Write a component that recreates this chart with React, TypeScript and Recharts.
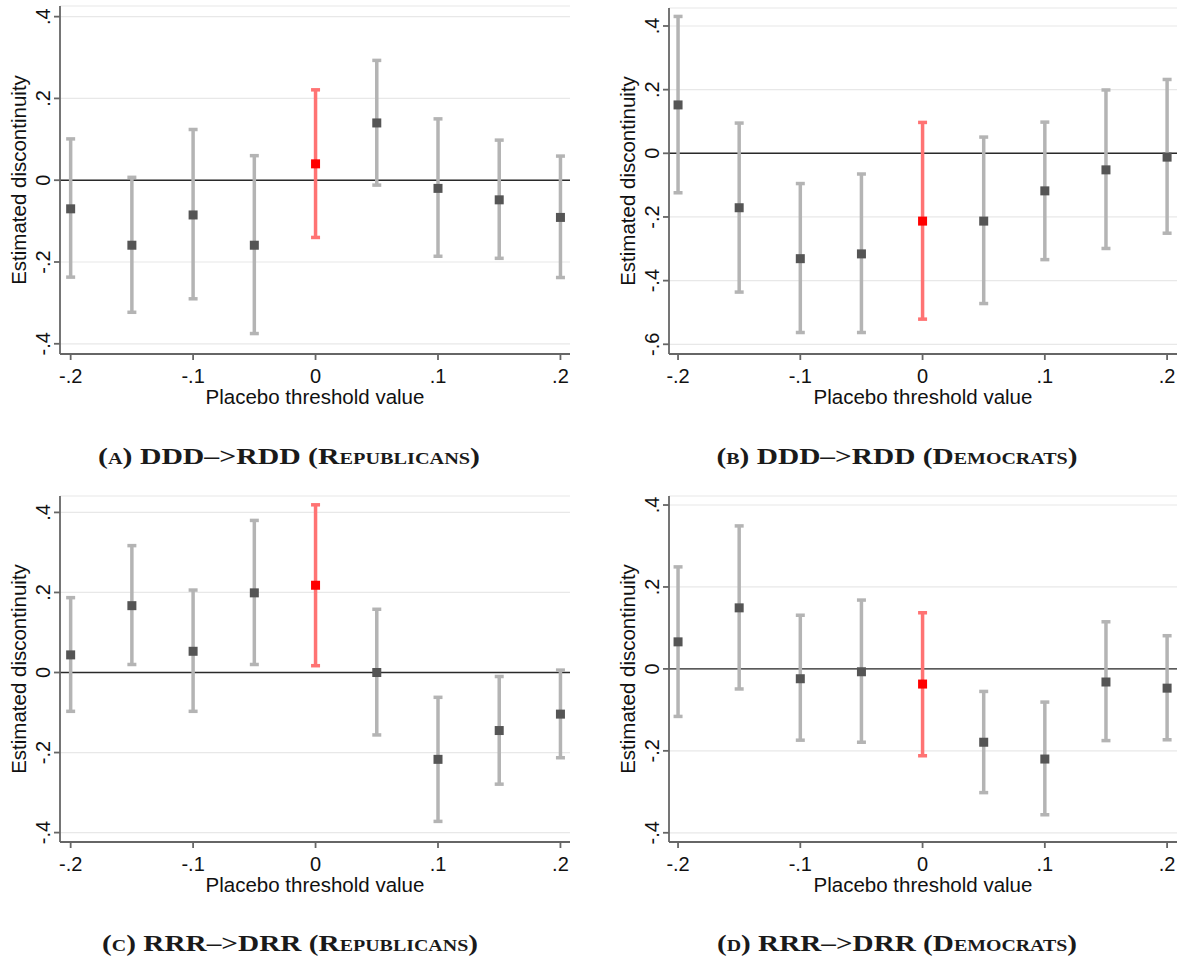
import React from "react";
import { ComposedChart, Scatter, ErrorBar, XAxis, YAxis, CartesianGrid, ReferenceLine, Label } from "recharts";

// Placebo thresholds on the x axis (0 is the true cutoff, drawn in red)
const thresholds = [-0.2, -0.15, -0.1, -0.05, 0, 0.05, 0.1, 0.15, 0.2];
const xTicks = [-0.2, -0.1, 0, 0.1, 0.2];

// (a) DDD->RDD, Republicans
const repDddEst = [-0.070, -0.159, -0.085, -0.159, 0.040, 0.140, -0.020, -0.048, -0.091];
const repDddLo = [-0.237, -0.323, -0.290, -0.375, -0.140, -0.012, -0.186, -0.191, -0.238];
const repDddHi = [0.101, 0.007, 0.124, 0.060, 0.221, 0.293, 0.150, 0.098, 0.059];

// (b) DDD->RDD, Democrats
const demDddEst = [0.152, -0.171, -0.331, -0.316, -0.213, -0.213, -0.118, -0.052, -0.012];
const demDddLo = [-0.124, -0.436, -0.563, -0.563, -0.521, -0.472, -0.334, -0.299, -0.251];
const demDddHi = [0.430, 0.095, -0.095, -0.065, 0.097, 0.051, 0.098, 0.199, 0.232];

// (c) RRR->DRR, Republicans
const repRrrEst = [0.044, 0.167, 0.053, 0.199, 0.218, 0.000, -0.217, -0.145, -0.104];
const repRrrLo = [-0.097, 0.020, -0.097, 0.020, 0.017, -0.156, -0.372, -0.279, -0.213];
const repRrrHi = [0.187, 0.317, 0.206, 0.380, 0.419, 0.158, -0.062, -0.010, 0.006];

// (d) RRR->DRR, Democrats
const demRrrEst = [0.066, 0.149, -0.024, -0.007, -0.037, -0.179, -0.220, -0.032, -0.047];
const demRrrLo = [-0.116, -0.049, -0.174, -0.179, -0.212, -0.302, -0.356, -0.175, -0.173];
const demRrrHi = [0.249, 0.349, 0.131, 0.168, 0.137, -0.055, -0.081, 0.115, 0.081];

const yTicksShort = [-0.4, -0.2, 0, 0.2, 0.4];
const yTicksLong = [-0.6, -0.4, -0.2, 0, 0.2, 0.4];

const SANS = "'Liberation Sans', Arial, sans-serif";
const AXIS = "#666666";

const fmt = (v: number) => (v === 0 ? "0" : String(Math.round(v * 10) / 10).replace("0.", "."));

function buildRows(est: number[], lo: number[], hi: number[]) {
  return thresholds.map((x, i) => ({ x, y: est[i], err: [est[i] - lo[i], hi[i] - est[i]] }));
}

const square = (fill: string) => (p: any) => (
  <rect x={p.cx - 4.5} y={p.cy - 4.5} width={9} height={9} fill={fill} />
);

const XTick = (p: any) => (
  <text x={p.x} y={p.y + 23} textAnchor="middle" fontFamily={SANS} fontSize={20} fill="#111">
    {fmt(p.payload.value)}
  </text>
);

const YTick = (p: any) => (
  <text
    transform={`translate(${p.x - 4},${p.y}) rotate(-90)`}
    textAnchor="middle"
    fontFamily={SANS}
    fontSize={20}
    fill="#111"
  >
    {fmt(p.payload.value)}
  </text>
);

type PanelProps = {
  left: number;
  top: number;
  width: number;
  height: number;
  axisW: number;
  right: number;
  mTop: number;
  xDomain: [number, number];
  yDomain: [number, number];
  yTicks: number[];
  est: number[];
  lo: number[];
  hi: number[];
  caption: string;
  capX: number;
  capBase: number;
  capW: number;
};

function Panel(props: PanelProps) {
  const rows = buildRows(props.est, props.lo, props.hi);
  const grey = rows.filter((r) => r.x !== 0);
  const red = rows.filter((r) => r.x === 0);
  return (
    <>
      <div style={{ position: "absolute", left: props.left, top: props.top }}>
        <ComposedChart
          width={props.width}
          height={props.height}
          margin={{ top: props.mTop, right: props.right, left: 0, bottom: 0 }}
        >
          <CartesianGrid vertical={false} stroke="#e8e8e8" strokeWidth={1.2} />
          <XAxis
            type="number"
            dataKey="x"
            domain={props.xDomain}
            ticks={xTicks}
            interval={0}
            allowDataOverflow
            height={56}
            tickSize={6}
            tickMargin={0}
            stroke={AXIS}
            strokeWidth={1.8}
            tick={XTick}
          >
            <Label
              content={(lp: any) => {
                const vb = lp.viewBox;
                return (
                  <text x={vb.x + vb.width / 2} y={vb.y + 50} textAnchor="middle" fontFamily={SANS} fontSize={20.5} fill="#111">
                    Placebo threshold value
                  </text>
                );
              }}
            />
          </XAxis>
          <YAxis
            type="number"
            domain={props.yDomain}
            ticks={props.yTicks}
            interval={0}
            allowDataOverflow
            width={props.axisW}
            tickSize={6}
            tickMargin={0}
            stroke={AXIS}
            strokeWidth={1.8}
            tick={YTick}
          >
            <Label
              content={(lp: any) => {
                const vb = lp.viewBox;
                const cx = vb.x + vb.width - 34;
                const cy = vb.y + vb.height / 2;
                return (
                  <text transform={`translate(${cx},${cy}) rotate(-90)`} textAnchor="middle" fontFamily={SANS} fontSize={20.5} fill="#111">
                    Estimated discontinuity
                  </text>
                );
              }}
            />
          </YAxis>
          <ReferenceLine y={0} stroke="#2a2a2a" strokeWidth={1.4} />
          <Scatter data={grey} dataKey="y" shape={square("#555555")} isAnimationActive={false}>
            <ErrorBar dataKey="err" direction="y" width={4.5} stroke="#b4b4b4" strokeWidth={3.5} />
          </Scatter>
          <Scatter data={red} dataKey="y" shape={square("#ff0000")} isAnimationActive={false}>
            <ErrorBar dataKey="err" direction="y" width={4.5} stroke="#ff7373" strokeWidth={3.5} />
          </Scatter>
        </ComposedChart>
      </div>
      <svg
        width={600}
        height={40}
        style={{ position: "absolute", left: props.capX - 300, top: props.capBase - 30 }}
      >
        <text
          x={300 - props.capW / 2}
          y={30}
          textLength={props.capW}
          lengthAdjust="spacingAndGlyphs"
          fontFamily="'Liberation Serif', serif"
          fontWeight={700}
          fontSize={23.5}
          fill="#1a1a1a"
          style={{ fontVariant: "small-caps" }}
        >
          {props.caption}
        </text>
      </svg>
    </>
  );
}

export default function App() {
  return (
    <div style={{ position: "absolute", left: 0, top: 0, width: 1190, height: 961, background: "#fff" }}>
      <Panel
        left={0} top={0} width={590} height={410} axisW={60} right={20} mTop={6}
        xDomain={[-0.2087, 0.2078]} yDomain={[-0.425, 0.426]} yTicks={yTicksShort}
        est={repDddEst} lo={repDddLo} hi={repDddHi}
        caption="(a) DDD–>RDD (Republicans)" capX={289} capBase={464} capW={382}
      />
      <Panel
        left={595} top={0} width={595} height={410} axisW={74} right={13} mTop={8}
        xDomain={[-0.2074, 0.2081]} yDomain={[-0.6305, 0.4565]} yTicks={yTicksLong}
        est={demDddEst} lo={demDddLo} hi={demDddHi}
        caption="(b) DDD–>RDD (Democrats)" capX={897} capBase={464} capW={361}
      />
      <Panel
        left={0} top={490} width={590} height={408} axisW={60} right={20} mTop={6}
        xDomain={[-0.2087, 0.2078]} yDomain={[-0.4235, 0.441]} yTicks={yTicksShort}
        est={repRrrEst} lo={repRrrLo} hi={repRrrHi}
        caption="(c) RRR–>DRR (Republicans)" capX={290} capBase={951} capW={376}
      />
      <Panel
        left={595} top={490} width={595} height={408} axisW={74} right={13} mTop={6}
        xDomain={[-0.2074, 0.2081]} yDomain={[-0.4225, 0.422]} yTicks={yTicksShort}
        est={demRrrEst} lo={demRrrLo} hi={demRrrHi}
        caption="(d) RRR–>DRR (Democrats)" capX={897} capBase={951} capW={360}
      />
    </div>
  );
}
